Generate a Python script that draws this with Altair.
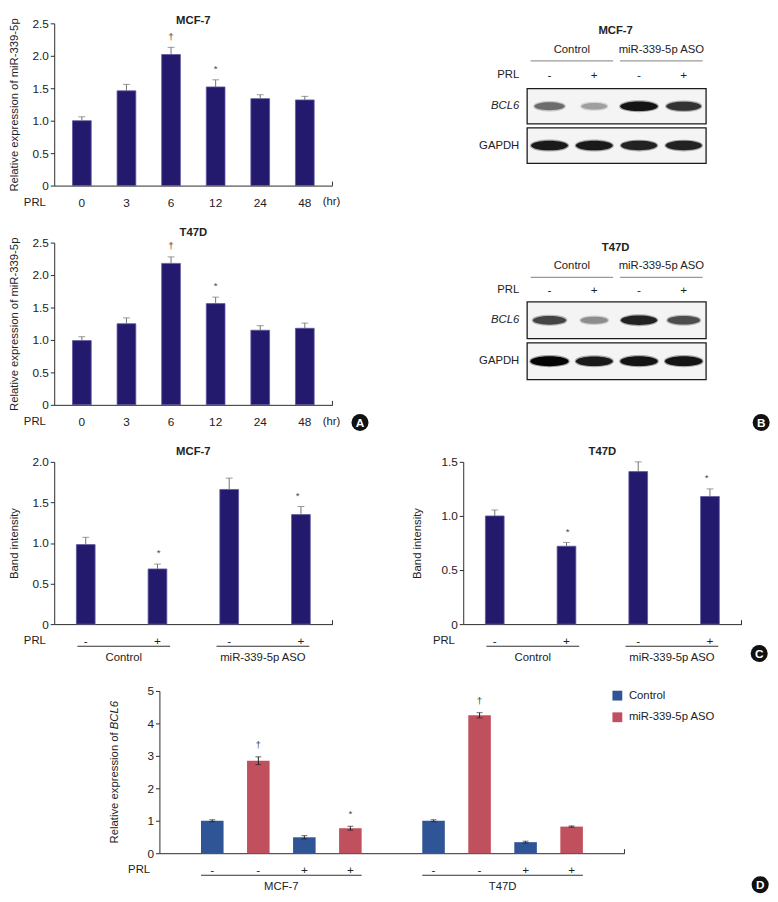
import altair as alt
import pandas as pd

FONT = "Liberation Sans, Arial, sans-serif"
NAVY = "#231a6d"
NAVY_EDGE = "#5e589e"
ERRC = "#707070"
BLUE = "#2f5597"
RED = "#c1505e"
AXC = "#2a2a2a"
TXT = "#222222"
FS = 11.5
VH = 165  # view height of every panel

# ---------------- data ----------------
# Panel A: miR-339-5p time course
A_TIMES = ["0", "3", "6", "12", "24", "48"]
A_MCF7 = [1.00, 1.46, 2.02, 1.52, 1.34, 1.32]
A_MCF7_ERR = [0.06, 0.10, 0.11, 0.11, 0.06, 0.055]
A_MCF7_SIG = ["", "", "†", "*", "", ""]
A_T47D = [0.99, 1.25, 2.18, 1.56, 1.15, 1.18]
A_T47D_ERR = [0.06, 0.09, 0.10, 0.10, 0.07, 0.08]
A_T47D_SIG = ["", "", "†", "*", "", ""]
A_YTICKS = [0, 0.5, 1.0, 1.5, 2.0, 2.5]

# Panel B: western blots (band darkness, 0-1)
B_LANES = ["L1", "L2", "L3", "L4"]
B_PRL = ["-", "+", "-", "+"]
B_GROUPS = ["Control", "miR-339-5p ASO"]
B_ROWS = ["BCL6", "GAPDH"]
B_MCF7_BCL6 = [0.55, 0.35, 0.95, 0.80]
B_MCF7_GAPDH = [0.92, 0.92, 0.88, 0.88]
B_T47D_BCL6 = [0.72, 0.42, 0.88, 0.68]
B_T47D_GAPDH = [1.00, 0.92, 0.95, 0.95]

# Panel C: band intensity
C_LANES = ["c-", "c+", "a-", "a+"]
C_PRL = ["-", "+", "-", "+"]
C_GROUPS = ["Control", "miR-339-5p ASO"]
C_MCF7 = [0.98, 0.68, 1.66, 1.35]
C_MCF7_ERR = [0.09, 0.06, 0.14, 0.10]
C_MCF7_SIG = ["", "*", "", "*"]
C_T47D = [1.00, 0.72, 1.41, 1.18]
C_T47D_ERR = [0.055, 0.035, 0.09, 0.07]
C_T47D_SIG = ["", "*", "", "*"]

# Panel D: BCL6 expression
D_CELLS = ["MCF-7", "T47D"]
D_LANES = ["1", "2", "3", "4"]
D_TREATS = ["Control", "miR-339-5p ASO"]
D_TREAT = ["Control", "miR-339-5p ASO", "Control", "miR-339-5p ASO"]
D_PRL = ["-", "-", "+", "+"]
D_MCF7 = [1.00, 2.85, 0.49, 0.77]
D_MCF7_ERR = [0.03, 0.12, 0.05, 0.06]
D_MCF7_SIG = ["", "†", "", "*"]
D_T47D = [1.00, 4.25, 0.34, 0.82]
D_T47D_ERR = [0.03, 0.08, 0.03, 0.02]
D_T47D_SIG = ["", "†", "", ""]

ELLIPSE = "M-1,0A1,0.26,0,1,0,1,0A1,0.26,0,1,0,-1,0Z"


def one(text):
    return pd.DataFrame({"t": [text]})


def label(text, x, y, size=FS, weight="normal", align="center", style="normal", angle=0, dx=0, color=TXT):
    return alt.Chart(one(text)).mark_text(
        fontSize=size, fontWeight=weight, align=align, baseline="middle",
        fontStyle=style, angle=angle, dx=dx, color=color
    ).encode(x=alt.value(x), y=alt.value(y), text="t:N")


def circle_label(letter, x, y):
    c = alt.Chart(one(letter)).mark_point(
        shape="circle", filled=True, color="#111111", size=300, opacity=1
    ).encode(x=alt.value(x), y=alt.value(y))
    t = alt.Chart(one(letter)).mark_text(
        color="white", fontWeight="bold", fontSize=12, baseline="middle"
    ).encode(x=alt.value(x), y=alt.value(y + 0.5), text="t:N")
    return [c, t]


def end_tick(x, h):
    return alt.Chart(one("")).mark_rule(color=AXC).encode(
        x=alt.value(x), y=alt.value(h - 4), y2=alt.value(h)
    )


def y_axis(title, values, title_pad, fmt=None):
    kw = dict(
        title=title, values=values, grid=False, ticks=True, tickSize=4, tickColor=AXC,
        domainColor=AXC, labelPadding=2, labelFontSize=12, labelColor=TXT,
        titlePadding=title_pad, titleFontSize=FS, titleFontWeight="normal", titleColor=TXT,
    )
    if fmt is None:
        kw["labelExpr"] = "datum.value == 0 ? '0' : format(datum.value, '.1f')"
    else:
        kw["format"] = fmt
    return alt.Axis(**kw)


def x_axis_prl(label_expr=None, label_pad=17, title_x=-9, label_size=12, offset=0):
    kw = dict(
        title="PRL", labelAngle=0, ticks=False, tickSize=0, labelPadding=label_pad,
        labelBaseline="middle", labelFontSize=label_size, labelColor=TXT, domainColor=AXC,
        titleX=title_x, titleY=17, titleAlign="right", titleBaseline="middle",
        titleFontSize=FS, titleFontWeight="normal", titleColor=TXT, offset=offset,
    )
    if label_expr:
        kw["labelExpr"] = label_expr
    return alt.Axis(**kw)


# ---------------- panel A ----------------
def panel_A(title, vals, errs, sigs, W, title_y, circle=None):
    H, XR = VH, 283
    df = pd.DataFrame({"t": A_TIMES, "v": vals, "e": errs, "s": sigs})
    df["u"] = df["v"] + df["e"]
    X = alt.X("t:N", scale=alt.Scale(domain=A_TIMES, range=[0, XR], paddingInner=0.58, paddingOuter=0.41),
              axis=x_axis_prl())
    ysc = alt.Scale(domain=[0, 2.5], nice=False)
    yax = y_axis("Relative expression of miR-339-5p", A_YTICKS, 13)
    base = alt.Chart(df)
    bars = base.mark_bar(color=NAVY, stroke=NAVY_EDGE, strokeWidth=0.8).encode(
        x=X, y=alt.Y("v:Q", scale=ysc, axis=yax))
    err = base.mark_rule(color=ERRC).encode(x=X, y=alt.Y("v:Q", scale=ysc, axis=yax), y2="u:Q")
    cap = base.mark_tick(color=ERRC, size=7, thickness=1).encode(x=X, y=alt.Y("u:Q", scale=ysc, axis=yax))
    sig = base.mark_text(dy=-11, fontSize=10, color="#444444").encode(
        x=X, y=alt.Y("u:Q", scale=ysc, axis=yax), text="s:N")
    layers = [bars, err, cap, sig,
              label(title, XR / 2, title_y, weight="bold"),
              label("(hr)", 282, H + 17),
              end_tick(XR, H)]
    if circle:
        layers += circle_label(*circle)
    return alt.layer(*layers).properties(width=W, height=H)


# ---------------- panel B ----------------
def panel_B(title, bcl6, gapdh, pos, circle=None):
    W, H = 182, VH
    ty, gy, uy, sy, r0, r1 = pos
    lanes_sc = alt.Scale(domain=B_LANES, range=[0, W], paddingInner=0, paddingOuter=0)
    grp_sc = alt.Scale(domain=B_GROUPS, range=[0, W], paddingInner=0.077, paddingOuter=0.0385)
    row_sc = alt.Scale(domain=B_ROWS, range=[r0, r1], paddingInner=0.1, paddingOuter=0)

    rows_df = pd.DataFrame({"r": B_ROWS})
    frame = alt.Chart(rows_df).mark_rect(fill="#f4f4f4", stroke="#1a1a1a", strokeWidth=1.3).encode(
        y=alt.Y("r:N", scale=row_sc, axis=None), x=alt.value(0), x2=alt.value(W))
    lab_it = alt.Chart(rows_df).transform_filter(alt.datum.r == "BCL6").mark_text(
        align="right", baseline="middle", fontSize=FS, fontStyle="italic", color=TXT).encode(
        y=alt.Y("r:N", scale=row_sc, axis=None), x=alt.value(-8), text="r:N")
    lab_n = alt.Chart(rows_df).transform_filter(alt.datum.r == "GAPDH").mark_text(
        align="right", baseline="middle", fontSize=FS, color=TXT).encode(
        y=alt.Y("r:N", scale=row_sc, axis=None), x=alt.value(-8), text="r:N")

    bdf = pd.DataFrame({
        "lane": B_LANES * 2,
        "row": ["BCL6"] * 4 + ["GAPDH"] * 4,
        "k": list(bcl6) + list(gapdh),
    })
    shade = alt.Scale(domain=[0, 1], range=["#ffffff", "#050505"])
    bands = alt.Chart(bdf).mark_point(shape=ELLIPSE, filled=True, strokeWidth=2.5, strokeOpacity=0.35, opacity=1).encode(
        x=alt.X("lane:N", scale=lanes_sc, axis=None),
        y=alt.Y("row:N", scale=row_sc, axis=None),
        size=alt.Size("k:Q", scale=alt.Scale(domain=[0, 1], range=[250, 1500]), legend=None),
        fill=alt.Fill("k:Q", scale=shade, legend=None),
        stroke=alt.Stroke("k:Q", scale=shade, legend=None),
    )

    gdf = pd.DataFrame({"g": B_GROUPS})
    gtext = alt.Chart(gdf).mark_text(fontSize=FS, baseline="middle", color=TXT).encode(
        x=alt.X("g:N", scale=grp_sc, axis=None), y=alt.value(gy), text="g:N")
    gline = alt.Chart(gdf).mark_rect(fill="#9a9a9a").encode(
        x=alt.X("g:N", scale=grp_sc, axis=None), y=alt.value(uy), y2=alt.value(uy + 1.3))
    sdf = pd.DataFrame({"lane": B_LANES, "p": B_PRL})
    signs = alt.Chart(sdf).mark_text(fontSize=12, baseline="middle", color=TXT).encode(
        x=alt.X("lane:N", scale=lanes_sc, axis=None), y=alt.value(sy), text="p:N")

    layers = [frame, bands, lab_it, lab_n, gtext, gline, signs,
              label("PRL", -8, sy, align="right"),
              label(title, 90, ty, weight="bold")]
    if circle:
        layers += circle_label(*circle)
    return alt.layer(*layers).resolve_scale(x="independent").properties(width=W, height=H)


# ---------------- panel C ----------------
def panel_C(title, vals, errs, sigs, ymax, yticks, W, title_pad, circle=None):
    H, XR = VH, 283
    df = pd.DataFrame({"l": C_LANES, "v": vals, "e": errs, "s": sigs})
    df["u"] = df["v"] + df["e"]
    xsc = alt.Scale(domain=C_LANES, range=[0, XR], paddingInner=0.739, paddingOuter=0.309)
    gsc = alt.Scale(domain=C_GROUPS, range=[0, XR], paddingInner=0.333, paddingOuter=0.1665)
    Xa = alt.X("l:N", scale=xsc, axis=x_axis_prl(label_expr="slice(datum.value, 1)"))
    Xn = alt.X("l:N", scale=xsc, axis=None)
    ysc = alt.Scale(domain=[0, ymax], nice=False)
    yax = y_axis("Band intensity", yticks, title_pad)
    base = alt.Chart(df)
    bars = base.mark_bar(color=NAVY, stroke=NAVY_EDGE, strokeWidth=0.8).encode(
        x=Xa, y=alt.Y("v:Q", scale=ysc, axis=yax))
    err = base.mark_rule(color=ERRC).encode(x=Xn, y=alt.Y("v:Q", scale=ysc, axis=yax), y2="u:Q")
    cap = base.mark_tick(color=ERRC, size=7, thickness=1).encode(x=Xn, y=alt.Y("u:Q", scale=ysc, axis=yax))
    sig = base.mark_text(dy=-11, fontSize=10, color="#444444").encode(
        x=Xn, y=alt.Y("u:Q", scale=ysc, axis=yax), text="s:N")
    gdf = pd.DataFrame({"g": C_GROUPS})
    gline = alt.Chart(gdf).mark_rect(fill="#333333").encode(
        x=alt.X("g:N", scale=gsc, axis=None), y=alt.value(H + 22), y2=alt.value(H + 23))
    gtext = alt.Chart(gdf).mark_text(fontSize=FS, baseline="middle", color=TXT).encode(
        x=alt.X("g:N", scale=gsc, axis=None), y=alt.value(H + 35), text="g:N")
    layers = [bars, err, cap, sig, gline, gtext,
              label(title, XR / 2, -10, weight="bold"),
              end_tick(XR, H)]
    if circle:
        layers += circle_label(*circle)
    return alt.layer(*layers).resolve_scale(x="independent").properties(width=W, height=H)


# ---------------- panel D ----------------
def panel_D(W):
    TOP, XR = 10, 473
    H = VH + TOP  # bottom of the plotting range (axis pushed down by TOP)
    rows = []
    for cell, vals, errs, sigs in [("MCF-7", D_MCF7, D_MCF7_ERR, D_MCF7_SIG),
                                   ("T47D", D_T47D, D_T47D_ERR, D_T47D_SIG)]:
        for lane, tr, p, v, e, s in zip(D_LANES, D_TREAT, D_PRL, vals, errs, sigs):
            rows.append(dict(cell=cell, lane=lane, treat=tr, prl=p, v=v, lo=v - e, hi=v + e, s=s))
    df = pd.DataFrame(rows)
    xsc = alt.Scale(domain=D_CELLS, range=[0, XR], paddingInner=0.274, paddingOuter=0.188)
    X = alt.X("cell:N", scale=xsc, axis=x_axis_prl(label_pad=34, title_x=-10, label_size=FS, offset=TOP))
    XO = alt.XOffset("lane:N", scale=alt.Scale(domain=D_LANES, paddingInner=0.51, paddingOuter=0))
    ysc = alt.Scale(domain=[0, 5], range=[H, TOP], nice=False)
    yax = y_axis(None, [0, 1, 2, 3, 4, 5], 0, fmt="d")
    base = alt.Chart(df)
    bars = base.mark_bar().encode(
        x=X, xOffset=XO, y=alt.Y("v:Q", scale=ysc, axis=yax),
        color=alt.Color("treat:N", scale=alt.Scale(domain=D_TREATS, range=[BLUE, RED]),
                        legend=alt.Legend(title=None, orient="none", legendX=460, legendY=9,
                                          symbolType="square", symbolSize=100, symbolStrokeWidth=0,
                                          labelFontSize=FS, labelColor=TXT, rowPadding=9,
                                          labelOffset=6)))
    err = base.mark_rule(color="#222222").encode(
        x=X, xOffset=XO, y=alt.Y("lo:Q", scale=ysc, axis=yax), y2="hi:Q")
    cap_hi = base.mark_tick(color="#222222", size=6, thickness=1).encode(
        x=X, xOffset=XO, y=alt.Y("hi:Q", scale=ysc, axis=yax))
    cap_lo = base.mark_tick(color="#222222", size=6, thickness=1).encode(
        x=X, xOffset=XO, y=alt.Y("lo:Q", scale=ysc, axis=yax))
    sig = base.mark_text(dy=-12, fontSize=10, color="#444444").encode(
        x=X, xOffset=XO, y=alt.Y("hi:Q", scale=ysc, axis=yax), text="s:N")
    signs = base.mark_text(fontSize=12, baseline="middle", color=TXT).encode(
        x=X, xOffset=XO, y=alt.value(H + 17), text="prl:N")
    cdf = pd.DataFrame({"cell": D_CELLS})
    uline = alt.Chart(cdf).mark_rect(fill="#333333").encode(
        x=X, y=alt.value(H + 22), y2=alt.value(H + 23))
    layers = [bars, err, cap_hi, cap_lo, sig, signs, uline,
              label("Relative expression of", -45, 52, align="right", angle=270),
              label("BCL6", -45, 52, align="left", angle=270, style="italic", dx=3),
              end_tick(XR, H)]
    layers += circle_label("D", 611, 207)
    return alt.layer(*layers).properties(width=W, height=VH)


def spacer():
    return alt.Chart(one("")).mark_text(text="").encode(
        x=alt.value(0), y=alt.value(0)).properties(width=1, height=1)


# column widths of the 4-column grid: 107 | 309 | 65 | 182
A1 = panel_A("MCF-7", A_MCF7, A_MCF7_ERR, A_MCF7_SIG, 107, -2)
A2 = panel_A("T47D", A_T47D, A_T47D_ERR, A_T47D_SIG, 107, -10, circle=("A", 311, 183))
B1 = panel_B("MCF-7", B_MCF7_BCL6, B_MCF7_GAPDH, (8.3, 27.3, 37.5, 52.3, 66.3, 142.3))
B2 = panel_B("T47D", B_T47D_BCL6, B_T47D_GAPDH, (5.3, 24.3, 34.8, 48.3, 60.3, 139.3),
             circle=("B", 238, 183))
C1 = panel_C("MCF-7", C_MCF7, C_MCF7_ERR, C_MCF7_SIG, 2.0, [0, 0.5, 1.0, 1.5, 2.0], 107, 13)
C2 = panel_C("T47D", C_T47D, C_T47D_ERR, C_T47D_SIG, 1.5, [0, 0.5, 1.0, 1.5], 65, 19,
             circle=("C", 301, 195))
D = panel_D(309)

chart = alt.concat(
    A1, spacer(), spacer(), B1,
    A2, spacer(), spacer(), B2,
    C1, spacer(), C2, spacer(),
    spacer(), D,
    columns=4, align={"row": "all", "column": "each"}, bounds="flush",
    spacing={"row": 58, "column": 0},
    padding=0,
).resolve_scale(color="independent").configure(
    font=FONT, background="white"
).configure_view(stroke=None)

chart.save("out.html", embed_options={"renderer": "svg", "actions": False})
